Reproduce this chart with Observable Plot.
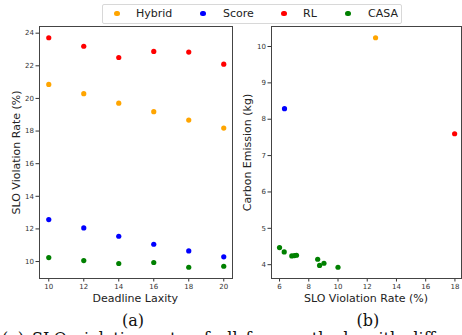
<!DOCTYPE html>
<html>
<head>
<meta charset="utf-8">
<script src="https://cdn.jsdelivr.net/npm/d3@7"></script>
<script src="https://cdn.jsdelivr.net/npm/@observablehq/plot@0.6"></script>
<style>
  html, body { margin: 0; padding: 0; background: #fff; overflow: hidden; }
  #root { position: relative; width: 462px; height: 335px; overflow: hidden; font-family: "DejaVu Sans", sans-serif; }
  .abs { position: absolute; }
  .plot { position: absolute; top: 0; }
  .lbl { position: absolute; font-size: 11px; color: #222; white-space: nowrap; }
  .cap { position: absolute; font-family: "DejaVu Serif", serif; font-size: 16px; color: #111; white-space: nowrap; }
</style>
</head>
<body>
<div id="root"></div>
<script>
// ---------- data ----------
const methods = ["Hybrid", "Score", "RL", "CASA"];
const colors = ["orange", "blue", "red", "green"];

// (a) SLO violation rate vs deadline laxity
const laxity = [10, 12, 14, 16, 18, 20];
const hybridA = [20.86, 20.29, 19.71, 19.19, 18.67, 18.18];
const scoreA  = [12.57, 12.06, 11.55, 11.06, 10.65, 10.29];
const rlA     = [23.72, 23.20, 22.51, 22.88, 22.84, 22.10];
const casaA   = [10.24, 10.06, 9.88, 9.94, 9.65, 9.71];

// (b) carbon emission vs SLO violation rate
const hybridSlo = [12.57], hybridCarbon = [10.24];
const scoreSlo  = [6.34],  scoreCarbon  = [8.29];
const rlSlo     = [17.98], rlCarbon     = [7.60];
const casaSlo    = [6.00, 6.32, 6.84, 7.02, 7.16, 8.61, 8.74, 9.04, 10.00];
const casaCarbon = [4.47, 4.35, 4.24, 4.25, 4.26, 4.15, 3.98, 4.04, 3.93];

// tick labels
const ticksAx = [10, 12, 14, 16, 18, 20];
const ticksAy = [10, 12, 14, 16, 18, 20, 22, 24];
const ticksBx = [6, 8, 10, 12, 14, 16, 18];
const ticksBy = [4, 5, 6, 7, 8, 9, 10];

// ---------- build tables ----------
const seriesA = [hybridA, scoreA, rlA, casaA];
const tableA = [];
seriesA.forEach((vals, i) => vals.forEach((v, j) => tableA.push({method: methods[i], x: laxity[j], y: v})));
const tableB = [];
[[hybridSlo, hybridCarbon], [scoreSlo, scoreCarbon], [rlSlo, rlCarbon], [casaSlo, casaCarbon]]
  .forEach(([xs, ys], i) => xs.forEach((x, j) => tableB.push({method: methods[i], x, y: ys[j]})));

const color = {domain: methods, range: colors};
const styleObj = {fontFamily: "DejaVu Sans", fontSize: "7px", color: "#333", background: "transparent", overflow: "visible"};
const root = document.getElementById("root");

function makePlot(data, o) {
  const p = Plot.plot({
    width: o.width, height: 310,
    marginLeft: o.ml, marginRight: o.mr, marginTop: 26, marginBottom: 32,
    style: styleObj,
    color,
    x: {domain: o.xd},
    y: {domain: o.yd},
    marks: [
      Plot.axisX(o.xt, {tickSize: 3.5, tickPadding: 2, label: null, fontSize: 7, stroke: "#333", tickFormat: d3.format("d")}),
      Plot.axisY(o.yt, {tickSize: 3.5, tickPadding: 2, label: null, fontSize: 7, stroke: "#333", tickFormat: d3.format("d")}),
      Plot.dot(data, {x: "x", y: "y", fill: "method", r: 2.6}),
      Plot.frame({stroke: "#444", strokeWidth: 1})
    ]
  });
  p.classList.add("plot");
  p.style.left = o.left + "px";
  root.appendChild(p);
}

makePlot(tableA, {left: 0, width: 240, ml: 39, mr: 8, xd: [9.47, 20.5], yd: [8.96, 24.41], xt: ticksAx, yt: ticksAy});
makePlot(tableB, {left: 230, width: 232, ml: 41, mr: 1, xd: [5.45, 18.45], yd: [3.62, 10.55], xt: ticksBx, yt: ticksBy});

// ---------- axis titles ----------
function label(text, cx, cy, rotate) {
  const d = document.createElement("div");
  d.className = "lbl";
  d.textContent = text;
  root.appendChild(d);
  const w = d.offsetWidth, h = d.offsetHeight;
  d.style.left = (cx - w / 2) + "px";
  d.style.top = (cy - h / 2) + "px";
  if (rotate) d.style.transform = "rotate(-90deg)";
}
label("Deadline Laxity", 135.5, 298, false);
label("SLO Violation Rate (%)", 16, 152, true);
label("SLO Violation Rate (%)", 366, 298, false);
label("Carbon Emission (kg)", 248, 152, true);

// ---------- sub captions ----------
function cap(text, cx, cy) {
  const d = document.createElement("div");
  d.className = "cap";
  d.textContent = text;
  root.appendChild(d);
  d.style.left = (cx - d.offsetWidth / 2) + "px";
  d.style.top = (cy - d.offsetHeight / 2) + "px";
}
cap("(a)", 133, 320);
cap("(b)", 368, 320);
const bottom = document.createElement("div");
bottom.className = "cap";
bottom.style.left = "2px";
bottom.style.top = "329px";
bottom.style.fontSize = "16px";
bottom.style.wordSpacing = "3px";
bottom.textContent = "(a) SLO violation rate of all four methods with diff";
root.appendChild(bottom);

// ---------- legend ----------
const leg = document.createElement("div");
leg.className = "abs";
Object.assign(leg.style, {left: "102px", top: "4px", width: "298px", height: "18px",
  border: "1px solid #d8d8d8", borderRadius: "2px", background: "rgba(255,255,255,0.9)", zIndex: 5});
root.appendChild(leg);
const dotX = [117, 203, 284, 348];
const textX = [136, 223, 303, 368];
methods.forEach((m, i) => {
  const dot = document.createElement("div");
  dot.className = "abs";
  Object.assign(dot.style, {left: (dotX[i] - 2.6) + "px", top: (13.5 - 2.6) + "px", width: "5.2px", height: "5.2px",
    borderRadius: "50%", background: colors[i], zIndex: 6});
  root.appendChild(dot);
  const t = document.createElement("div");
  t.className = "lbl";
  t.textContent = m;
  t.style.zIndex = 6;
  root.appendChild(t);
  t.style.left = textX[i] + "px";
  t.style.top = (13.5 - t.offsetHeight / 2) + "px";
});
</script>
</body>
</html>
